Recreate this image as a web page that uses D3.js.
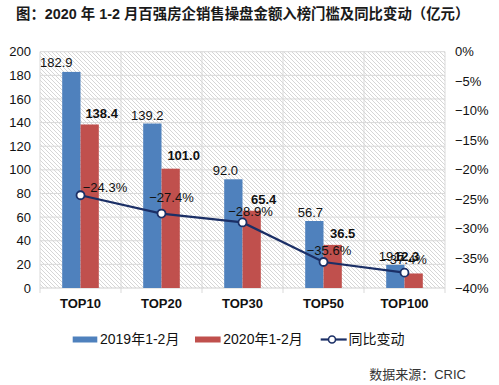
<!DOCTYPE html>
<html><head><meta charset="utf-8">
<script src="https://cdn.jsdelivr.net/npm/d3@7/dist/d3.min.js"></script>
<style>
html,body{margin:0;padding:0;background:#fff;}
svg{display:block;font-family:"Liberation Sans","Noto Sans CJK SC",Arial,sans-serif;}
</style></head>
<body><svg id="c" width="499" height="385"></svg>
<script>
const categories = ["TOP10","TOP20","TOP30","TOP50","TOP100"];
const values2019 = [182.9, 139.2, 92.0, 56.7, 19.6];
const values2020 = [138.4, 101.0, 65.4, 36.5, 12.3];
const changePct = [-24.3, -27.4, -28.9, -35.6, -37.4];
const leftTicks = [0,20,40,60,80,100,120,140,160,180,200];
const rightTicks = [0,-5,-10,-15,-20,-25,-30,-35,-40];
const seriesNames = ["2019年1-2月","2020年1-2月","同比变动"];
const titleText = "图：2020 年 1-2 月百强房企销售操盘金额入榜门槛及同比变动（亿元）";
const sourceText = "数据来源：CRIC";

// label offsets (layout)
const blueDx = [-15,-5,-8,-4,-4], blueUp = [9.5,8.5,9,9,8];
const redDx = [12,13,12,10,-7], redUp = [11.5,13.7,11.7,11,17];
const lineDx = [24.5,10,8,5.5,0], lineDy = [-8,-16,-10.5,-12,-13];

const svg = d3.select("#c");
const L = 40, R = 445, T = 51.7, B = 288;
const blue = "#4F81BD", red = "#C0504D", navy = "#1B2F66";

const x = d3.scaleBand().domain(categories).range([L,R]).padding(0);
const y = d3.scaleLinear().domain([0,200]).range([B,T]);
const y2 = d3.scaleLinear().domain([-40,0]).range([B,T]);
const bw = 18.3;

// hatch pattern
const defs = svg.append("defs");
const pat = defs.append("pattern").attr("id","hatch").attr("patternUnits","userSpaceOnUse")
  .attr("width",4).attr("height",4);
pat.append("rect").attr("width",4).attr("height",4).attr("fill","#fff");
pat.append("path").attr("d","M-1,-1L5,5M-1,3L1,5M3,-1L5,1").attr("stroke","#cbcbcb").attr("stroke-width",0.8);
svg.append("rect").attr("x",L).attr("y",T).attr("width",R-L).attr("height",B-T).attr("fill","url(#hatch)");

// gridlines
svg.append("g").selectAll("line").data(leftTicks.filter(d=>d>0)).join("line")
  .attr("x1",L).attr("x2",R).attr("y1",d=>y(d)).attr("y2",d=>y(d))
  .attr("stroke","#d9d9d9").attr("stroke-width",1);
const bounds = categories.map(c=>x(c)).concat([R]);
svg.append("g").selectAll("line").data(bounds).join("line")
  .attr("x1",d=>d).attr("x2",d=>d).attr("y1",T).attr("y2",B+5)
  .attr("stroke","#d9d9d9").attr("stroke-width",1);
svg.append("line").attr("x1",L).attr("x2",R).attr("y1",B).attr("y2",B).attr("stroke","#d0d0d0");

// left axis labels
svg.append("g").selectAll("text").data(leftTicks).join("text")
  .attr("x",31).attr("y",d=>y(d)).attr("dy","0.35em").attr("text-anchor","end")
  .attr("font-size",13).attr("fill","#111").text(d=>d);
// right axis labels
const pf = d3.format(".0f");
svg.append("g").selectAll("text").data(rightTicks).join("text")
  .attr("x",455).attr("y",d=>y2(d)).attr("dy","0.35em").attr("text-anchor","start")
  .attr("font-size",13).attr("fill","#111").text(d=>pf(d)+"%");

// bars
const cx = c => x(c) + x.bandwidth()/2;
svg.append("g").selectAll("rect").data(values2019).join("rect")
  .attr("x",(d,i)=>cx(categories[i])-bw).attr("width",bw)
  .attr("y",d=>y(d)).attr("height",d=>B-y(d)).attr("fill",blue);
svg.append("g").selectAll("rect").data(values2020).join("rect")
  .attr("x",(d,i)=>cx(categories[i])).attr("width",bw)
  .attr("y",d=>y(d)).attr("height",d=>B-y(d)).attr("fill",red);

// bar labels
const f1 = d3.format(".1f");
svg.append("g").selectAll("text").data(values2019).join("text")
  .attr("x",(d,i)=>cx(categories[i])-bw/2+blueDx[i]).attr("y",(d,i)=>y(d)-blueUp[i])
  .attr("dy","0.35em").attr("text-anchor","middle").attr("font-size",13).attr("fill","#111")
  .text(d=>f1(d));

// line
const line = d3.line().x((d,i)=>cx(categories[i])).y(d=>y2(d));
svg.append("path").datum(changePct).attr("d",line).attr("fill","none")
  .attr("stroke",navy).attr("stroke-width",2.2);
svg.append("g").selectAll("circle").data(changePct).join("circle")
  .attr("cx",(d,i)=>cx(categories[i])).attr("cy",d=>y2(d)).attr("r",4)
  .attr("fill","#fff").attr("stroke",navy).attr("stroke-width",1.8);
svg.append("g").selectAll("text").data(changePct).join("text")
  .attr("x",(d,i)=>cx(categories[i])+lineDx[i]).attr("y",(d,i)=>y2(d)+lineDy[i])
  .attr("dy","0.35em").attr("text-anchor","middle").attr("font-size",13).attr("fill","#111")
  .text(d=>d3.format(".1f")(d)+"%");

svg.append("g").selectAll("text").data(values2020).join("text")
  .attr("x",(d,i)=>cx(categories[i])+bw/2+redDx[i]).attr("y",(d,i)=>y(d)-redUp[i])
  .attr("dy","0.35em").attr("text-anchor","middle").attr("font-size",13).attr("font-weight","bold").attr("fill","#111")
  .text(d=>f1(d));

// x labels
svg.append("g").selectAll("text").data(categories).join("text")
  .attr("x",d=>cx(d)).attr("y",303).attr("dy","0.35em").attr("text-anchor","middle")
  .attr("font-size",13).attr("font-weight","bold").attr("fill","#111").text(d=>d);

// legend
const lg = svg.append("g").attr("font-size",14).attr("fill","#111");
lg.append("rect").attr("x",72.7).attr("y",336.5).attr("width",24.6).attr("height",6).attr("fill",blue);
lg.append("text").attr("x",100).attr("y",339.5).attr("dy","0.35em").text(seriesNames[0]);
lg.append("rect").attr("x",195).attr("y",336.5).attr("width",25.6).attr("height",6).attr("fill",red);
lg.append("text").attr("x",223.3).attr("y",339.5).attr("dy","0.35em").text(seriesNames[1]);
lg.append("line").attr("x1",320.7).attr("x2",346.7).attr("y1",339.5).attr("y2",339.5).attr("stroke",navy).attr("stroke-width",2.2);
lg.append("circle").attr("cx",332).attr("cy",339.5).attr("r",3.5).attr("fill","#fff").attr("stroke",navy).attr("stroke-width",1.6);
lg.append("text").attr("x",348.5).attr("y",339.5).attr("dy","0.35em").text(seriesNames[2]);

// title & source
svg.append("text").attr("x",16).attr("y",14).attr("dy","0.35em").attr("font-size",14.4)
  .attr("font-weight","bold").attr("fill","#1a1a1a").text(titleText);
svg.append("text").attr("x",466).attr("y",374).attr("dy","0.35em").attr("text-anchor","end")
  .attr("font-size",13).attr("fill","#333").text(sourceText);
</script></body></html>
